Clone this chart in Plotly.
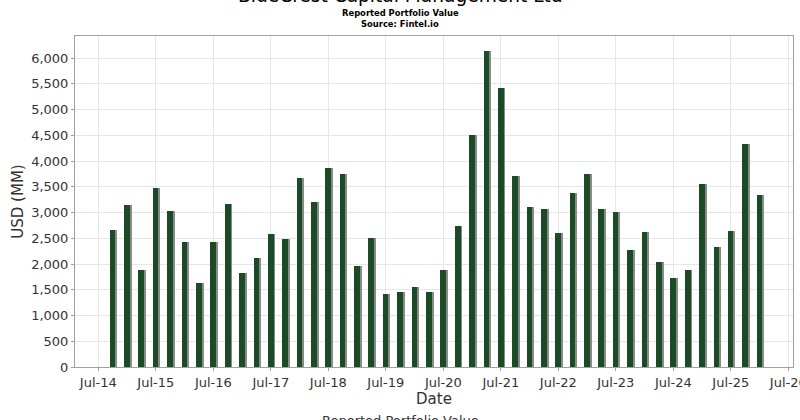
import pandas as pd
import plotly.graph_objects as go

# Quarter-end report dates (Q3 2014 .. Q4 2025)
dates = pd.date_range("2014-09-30", periods=46, freq="QE")
values = [
    2670, 3150, 1875, 3475, 3040, 2420, 1635, 2420, 3175, 1835,
    2120, 2590, 2480, 3675, 3215, 3860, 3755, 1955, 2505, 1420,
    1455, 1560, 1455, 1890, 2740, 4510, 6135, 5415, 3715, 3100,
    3068, 2595, 3385, 3743, 3068, 3006, 2276, 2615, 2031, 1726,
    1875, 3548, 2335, 2634, 4327, 3335,
]
title = "BlueCrest Capital Management Ltd"
subtitle1 = "Reported Portfolio Value"
subtitle2 = "Source: Fintel.io"
y_title = "USD (MM)"
x_title = "Date"
legend_text = "Reported Portfolio Value"

DAY = 86400000
bar_w = 36 * DAY
shadow_shift = 12 * DAY

fig = go.Figure()
fig.add_trace(go.Bar(
    x=dates, y=values, width=bar_w, offset=-bar_w / 2 + shadow_shift,
    marker=dict(color="#8a8a8a", line=dict(width=0)), hoverinfo="skip", showlegend=False,
))
fig.add_trace(go.Bar(
    x=dates, y=values, width=bar_w, offset=-bar_w / 2,
    marker=dict(color="#1b4a27", line=dict(width=0)), showlegend=False,
))

font = "DejaVu Sans"
fig.update_layout(
    width=800, height=420,
    margin=dict(l=75, r=7, t=36, b=53),
    paper_bgcolor="white", plot_bgcolor="white",
    barmode="overlay", bargap=0,
    font=dict(family=font, size=13, color="#333333"),
    xaxis=dict(
        type="date", automargin=False,
        range=["2014-02-03", "2026-07-31"],
        tick0="2014-07-01", dtick="M12", tickformat="%b-%y",
        ticklabeloverflow="allow",
        showgrid=True, gridcolor="#e6e6e6", gridwidth=1,
        showline=True, linecolor="#a0a0a0", mirror=True,
        ticks="outside", ticklen=3, tickcolor="#a0a0a0",
        tickfont=dict(size=13, color="#333333"),
        title=dict(text=x_title, font=dict(size=15, color="#333333"), standoff=4),
        zeroline=False,
    ),
    yaxis=dict(
        automargin=False,
        range=[0, 6430],
        tick0=0, dtick=500, tickformat=",d",
        showgrid=True, gridcolor="#e6e6e6", gridwidth=1,
        showline=True, linecolor="#a0a0a0", mirror=True,
        ticks="outside", ticklen=3, tickcolor="#a0a0a0",
        tickfont=dict(size=13, color="#333333"),
        title=dict(text=y_title, font=dict(size=15, color="#333333"), standoff=3),
        zeroline=False,
    ),
)

def ypaper(px):
    return (367 - px) / 331.0

def xpaper(px):
    return (px - 75) / 718.0

fig.add_annotation(text=title, xref="paper", yref="paper", x=xpaper(400), y=ypaper(-4),
                   showarrow=False, xanchor="center", yanchor="middle",
                   font=dict(family=font, size=18.6, color="#000000"))
fig.add_annotation(text="<b>" + subtitle1 + "</b>", xref="paper", yref="paper", x=xpaper(400), y=ypaper(13),
                   showarrow=False, xanchor="center", yanchor="middle",
                   font=dict(family=font, size=8.4, color="#000000"))
fig.add_annotation(text="<b>" + subtitle2 + "</b>", xref="paper", yref="paper", x=xpaper(400), y=ypaper(24),
                   showarrow=False, xanchor="center", yanchor="middle",
                   font=dict(family=font, size=8.4, color="#000000"))
fig.add_annotation(text=legend_text, xref="paper", yref="paper", x=xpaper(400), y=ypaper(420),
                   showarrow=False, xanchor="center", yanchor="middle",
                   font=dict(family=font, size=13, color="#333333"))

fig.write_html("out.html", config={"displayModeBar": False},
               post_script="document.body.style.margin='0px';")
